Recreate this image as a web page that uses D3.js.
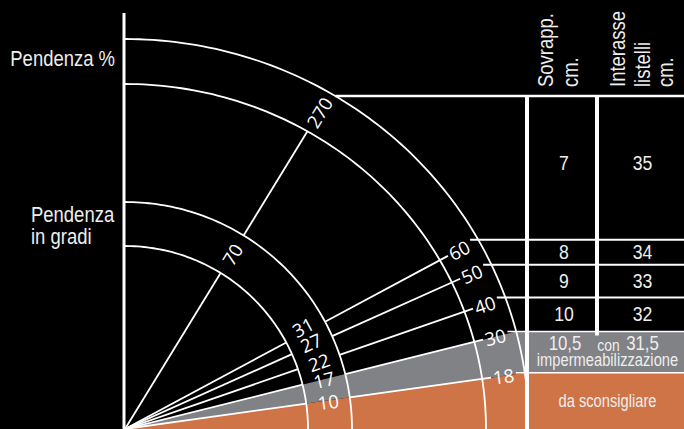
<!DOCTYPE html>
<html>
<head>
<meta charset="utf-8">
<script src="https://cdn.jsdelivr.net/npm/d3@7"></script>
<style>
  body { margin: 0; background: #000; }
  svg { display: block; }
</style>
</head>
<body>
<div id="chart"></div>
<script>
// pendenze: gradi (interno) e percentuale (esterno)
var gradi = [10, 17, 22, 27, 31, 70];
var pendenze = [18, 30, 40, 50, 60, 270];
// tabella, dall'alto verso il basso
var sovrapp = ["7", "8", "9", "10", "10,5"];
var interasse = ["35", "34", "33", "32", "31,5"];
var note = ["con", "impermeabilizzazione", "da sconsigliare"];
var intestazioni = [["Sovrapp.", "cm."], ["Interasse", "listelli", "cm."]];
var titoli = ["Pendenza %", "Pendenza", "in gradi"];

var width = 684, height = 429;
var O = {x: 125, y: 429};
var anelli = [{rx: 183, ry: 183}, {rx: 227, ry: 227}, {rx: 361, ry: 345}, {rx: 404, ry: 390}];
var tab = {x0: 527, x1: 597, x2: 684, top: 96};
var grigio = "#818286", arancio = "#cf7446", bianco = "#fff", testo = "#eeeeee";
var sans = "'Liberation Sans', Arial, sans-serif";
var narrow = 0.84;
// scostamento (px) delle etichette in gradi sopra il proprio raggio, per non sovrapporle
var scosta = [-1, 0, 0, 3, 6, 0];

// angolo disegnato per ogni valore in gradi (il disegno originale non e' in scala)
var angolo = d3.scaleLinear().domain([10, 17, 31, 70]).range([8, 14, 28.2, 58.5]);

function rad(d) { return d * Math.PI / 180; }
function raggio(anello, a) {
  var c = Math.cos(a) / anello.rx, s = Math.sin(a) / anello.ry;
  return 1 / Math.sqrt(c * c + s * s);
}
function pt(a, r) { return [O.x + r * Math.cos(a), O.y - r * Math.sin(a)]; }

var svg = d3.select("#chart").append("svg")
  .attr("width", width)
  .attr("height", height);

svg.append("rect").attr("width", width).attr("height", height).attr("fill", "#000");

var rays = gradi.map(function(g, i) {
  var a = rad(angolo(g));
  return {g: g, p: pendenze[i], a: a, rowY: O.y - raggio(anelli[3], a) * Math.sin(a)};
});

// fasce colorate: grigio tra 30% e 18%, arancio sotto 18%
var r30 = rays[1], r18 = rays[0];
var gEnd30 = pt(r30.a, raggio(anelli[3], r30.a));
var gEnd18 = pt(r18.a, raggio(anelli[3], r18.a));
var poly = d3.line();
svg.append("path")
  .attr("d", poly([[O.x, O.y], gEnd30, [tab.x2, r30.rowY], [tab.x2, r18.rowY], gEnd18]) + "Z")
  .attr("fill", grigio);
svg.append("path")
  .attr("d", poly([[O.x, O.y], gEnd18, [tab.x2, r18.rowY], [tab.x2, height]]) + "Z")
  .attr("fill", arancio);

// archi
svg.append("clipPath").attr("id", "clipArc")
  .append("rect").attr("x", 0).attr("y", 0).attr("width", tab.x0).attr("height", height);

var passi = d3.range(0, 91, 1).map(rad);
anelli.forEach(function(an) {
  var arco = d3.line()
    .x(function(t) { return O.x + an.rx * Math.cos(t); })
    .y(function(t) { return O.y - an.ry * Math.sin(t); });
  svg.append("path")
    .attr("d", arco(passi))
    .attr("clip-path", "url(#clipArc)")
    .attr("fill", "none")
    .attr("stroke", bianco)
    .attr("stroke-width", 1.8);
});

// asse verticale
svg.append("line")
  .attr("x1", 124).attr("x2", 124).attr("y1", 13).attr("y2", height)
  .attr("stroke", bianco).attr("stroke-width", 3);

// raggi, etichette in gradi e percentuale
var rMid = (anelli[0].rx + anelli[1].rx) / 2;
var seg = d3.line();
rays.forEach(function(d, i) {
  var deg = d.a * 180 / Math.PI;
  svg.append("path")
    .attr("d", seg([[O.x, O.y], pt(d.a, raggio(anelli[0], d.a))]))
    .attr("stroke", bianco).attr("stroke-width", 1.8);

  var cg = pt(d.a, rMid);
  cg = [cg[0] - scosta[i] * Math.sin(d.a), cg[1] - scosta[i] * Math.cos(d.a)];
  svg.append("text")
    .attr("transform", "translate(" + cg + ") rotate(" + (-deg) + ")")
    .attr("text-anchor", "middle").attr("dominant-baseline", "central")
    .attr("font-family", "'Open Sans', sans-serif").attr("font-size", 18.5)
    .attr("fill", bianco).text(d.g);

  var rc = (raggio(anelli[2], d.a) + raggio(anelli[3], d.a)) / 2;
  var cp = pt(d.a, rc);
  var lab = svg.append("text")
    .attr("transform", "translate(" + cp + ") rotate(" + (-deg) + ")")
    .attr("text-anchor", "middle").attr("dominant-baseline", "central")
    .attr("font-family", "'Open Sans', sans-serif").attr("font-size", 18.5)
    .attr("fill", bianco).text(d.p);
  var half = lab.node().getComputedTextLength() / 2;

  var rEnd = d.p > 100 ? raggio(anelli[2], d.a) : rc - half - 2;
  svg.append("path")
    .attr("d", seg([pt(d.a, raggio(anelli[1], d.a)), pt(d.a, rEnd)]))
    .attr("stroke", bianco).attr("stroke-width", 1.8);

  if (d.p < 100) {
    var x0 = pt(d.a, rc + half + 2)[0];
    svg.append("line")
      .attr("x1", x0).attr("x2", tab.x2).attr("y1", d.rowY).attr("y2", d.rowY)
      .attr("stroke", bianco).attr("stroke-width", i < 2 ? 1.5 : 2);
  }
});

// tabella
var topX = O.x + anelli[3].rx * Math.sqrt(1 - Math.pow((O.y - tab.top) / anelli[3].ry, 2));
svg.append("line")
  .attr("x1", topX).attr("x2", tab.x2).attr("y1", tab.top).attr("y2", tab.top)
  .attr("stroke", bianco).attr("stroke-width", 2.5);
svg.append("line")
  .attr("x1", tab.x0).attr("x2", tab.x0).attr("y1", tab.top).attr("y2", height)
  .attr("stroke", bianco).attr("stroke-width", 4);
svg.append("line")
  .attr("x1", tab.x1).attr("x2", tab.x1).attr("y1", tab.top).attr("y2", r30.rowY + 4)
  .attr("stroke", bianco).attr("stroke-width", 4);

function scritta(x, y, str, size, anchor, rot) {
  return svg.append("text")
    .attr("transform", "translate(" + x + "," + y + ")" + (rot ? " rotate(" + rot + ")" : "") + " scale(" + narrow + ",1)")
    .attr("text-anchor", anchor || "middle")
    .attr("font-family", sans).attr("font-size", size)
    .attr("fill", testo).text(str);
}

// intestazioni verticali
var colBase = [[553, 578], [625, 650, 673]];
intestazioni.forEach(function(col, c) {
  col.forEach(function(t, k) { scritta(colBase[c][k], 87, t, 22, "start", -90); });
});

// righe
var bordi = [tab.top, rays[4].rowY, rays[3].rowY, rays[2].rowY, rays[1].rowY, rays[0].rowY, height];
var c1 = (tab.x0 + tab.x1) / 2 + 2, c2 = (tab.x1 + tab.x2) / 2 + 2, cAll = (tab.x0 + tab.x2) / 2 + 2;
sovrapp.forEach(function(s, k) {
  var y0 = bordi[k], y1 = bordi[k + 1];
  if (k < 4) {
    var yb = (y0 + y1) / 2 + (k === 0 ? 2 : 7);
    scritta(c1, yb, s, 21);
    scritta(c2, yb, interasse[k], 21);
  } else {
    scritta(c1 + 1, y0 + 18.5, s, 20);
    scritta(c2, y0 + 18.5, interasse[k], 20);
    scritta(cAll + 1, y0 + 20, note[0], 16.5);
    scritta(cAll, y0 + 35, note[1], 17.5);
  }
});
scritta(cAll, (bordi[5] + bordi[6]) / 2 + 6, note[2], 17.5);

// titoli a sinistra
scritta(115, 66, titoli[0], 22, "end");
scritta(31, 222, titoli[1], 22, "start");
scritta(31, 243.5, titoli[2], 22, "start");
</script>
</body>
</html>
